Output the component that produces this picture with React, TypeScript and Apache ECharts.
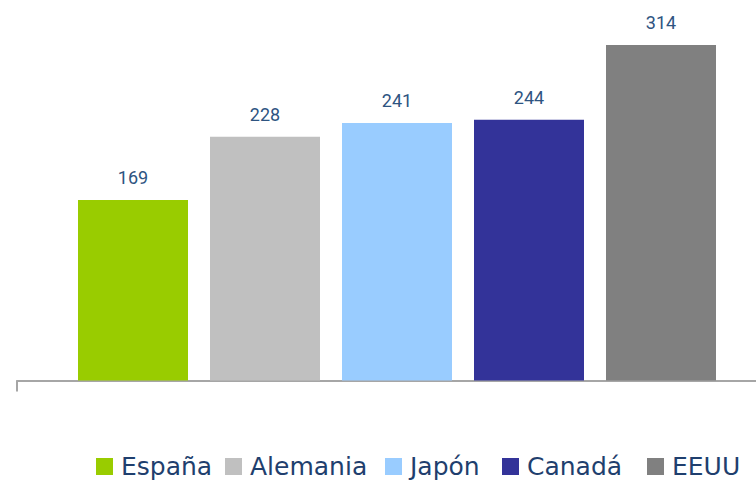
import React, { useEffect, useRef } from "react";
import * as echarts from "echarts";

const countries = ["España", "Alemania", "Japón", "Canadá", "EEUU"];
const values = [169, 228, 241, 244, 314];
const colors = ["#99CC00", "#C0C0C0", "#99CCFF", "#333399", "#808080"];
const categories = [""];

// layout: left edge of each legend entry (px)
const LEGEND_LEFT = [96, 225, 385, 502, 647];

export default function App() {
  const ref = useRef<HTMLDivElement>(null);
  useEffect(() => {
    if (!ref.current) return;
    const chart = echarts.init(ref.current, null, { renderer: "svg" });
    chart.setOption({
      animation: false,
      grid: { left: 17, top: 6.5, width: 760, height: 374, containLabel: false },
      xAxis: {
        type: "category",
        data: categories,
        axisLine: { show: true, lineStyle: { color: "#A6A6A6", width: 2 } },
        axisTick: { show: true, length: 11, lineStyle: { color: "#A6A6A6", width: 2 } },
        axisLabel: { show: false },
      },
      yAxis: {
        type: "value",
        min: 0,
        max: 350,
        show: false,
        splitLine: { show: false },
      },
      legend: countries.map((name, i) => ({
        top: 454,
        left: LEGEND_LEFT[i],
        padding: 0,
        itemWidth: 17,
        itemHeight: 17,
        icon: "rect",
        textStyle: { color: "#1F3F6E", fontSize: 25, fontFamily: "DejaVu Sans", padding: [0, 0, 0, 3] },
        data: [name],
      })),
      series: countries.map((name, i) => ({
        name,
        type: "bar",
        barWidth: 110,
        barGap: "20%",
        itemStyle: { color: colors[i] },
        label: {
          show: true,
          position: "top",
          distance: 13,
          color: "#2E5481",
          fontSize: 18,
          fontFamily: "Roboto",
        },
        data: [values[i]],
      })),
    });
    return () => chart.dispose();
  }, []);
  return (
    <div style={{ position: "absolute", left: 0, top: 0, width: 756, height: 481, overflow: "hidden" }}>
      <div ref={ref} style={{ width: 800, height: 481 }} />
    </div>
  );
}
